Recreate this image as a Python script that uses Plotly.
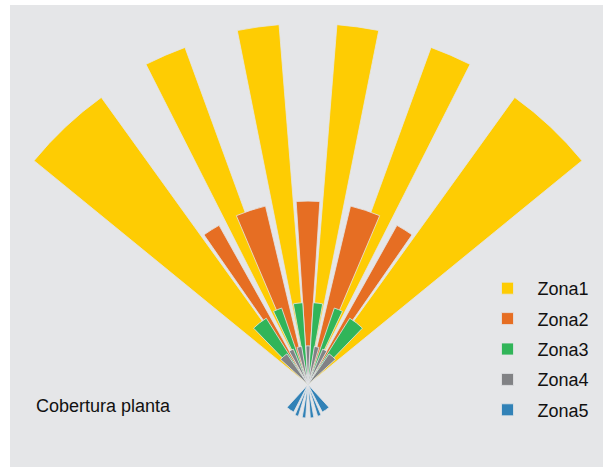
import math
import plotly.graph_objects as go

# ---------------- data ----------------
zone_names = ["Zona1", "Zona2", "Zona3", "Zona4", "Zona5"]

z1_theta = [133.25, 113.45, 97.95, 82.05, 66.55, 46.75]
z1_width = [15.0, 6.8, 6.7, 6.7, 6.8, 15.0]
z1_r = [9.8, 9.94, 10.0, 10.0, 9.94, 9.8]

z2_theta = [122.0, 108.2, 90.0, 71.8, 58.0]
z2_width = [5.6, 9.6, 7.4, 9.6, 5.6]
z2_r = [5.05, 5.08, 5.08, 5.08, 5.05]

z3_theta = [128.1, 112.1, 97.0, 83.0, 67.9, 51.9]
z3_width = [11.8, 6.2, 6.6, 6.6, 6.2, 11.8]
z3_r = [2.17, 2.24, 2.27, 2.27, 2.24, 2.17]

z4_theta = [131.0, 116.0, 103.0, 90.0, 77.0, 64.0, 49.0]
z4_width = [13.0, 7.0, 7.0, 6.0, 7.0, 7.0, 13.0]
z4_r = [1.03, 1.06, 1.07, 1.07, 1.07, 1.06, 1.03]

z5_theta = [235.0, 250.0, 263.0, 277.0, 290.0, 305.0]
z5_width = [15.0, 6.0, 6.0, 6.0, 6.0, 15.0]
z5_r = [0.86, 0.92, 0.93, 0.93, 0.92, 0.86]

title_text = "Cobertura planta"

# ---------------- style / layout ----------------
colors = ["#FECC03", "#E66E23", "#31B559", "#818285", "#3182B7"]
bg = "#E5E6E8"
W, H = 603, 467
cx, cy = 308.0, 384.5      # common centre in pixels
pxu = 36.1                 # pixels per radial unit
font_family = "Liberation Sans Narrow, Liberation Sans, Arial, sans-serif"


def sector_bbox(s0, s1):
    a0 = s0 % 360
    a1 = a0 + (s1 - s0)
    ax0, ay0 = math.cos(math.radians(a0)), math.sin(math.radians(a0))
    ax1, ay1 = math.cos(math.radians(a1)), math.sin(math.radians(a1))
    if (a0 <= 90 <= a1) or (a0 > 90 and a1 >= 450):
        y1 = 1
    elif ay0 <= 0 and ay1 <= 0:
        y1 = 0
    else:
        y1 = max(ay0, ay1)
    if (a0 <= 180 <= a1) or (a0 > 180 and a1 >= 540):
        x0 = -1
    elif ax0 >= 0 and ax1 >= 0:
        x0 = 0
    else:
        x0 = min(ax0, ax1)
    if (a0 <= 270 <= a1) or (a0 > 270 and a1 >= 630):
        y0 = -1
    elif ay0 >= 0 and ay1 >= 0:
        y0 = 0
    else:
        y0 = min(ay0, ay1)
    if a1 >= 360:
        x1 = 1
    elif ax0 <= 0 and ax1 <= 0:
        x1 = 0
    else:
        x1 = max(ax0, ax1)
    return x0, y0, x1, y1


def polar_domain(sector, rmax):
    R = rmax * pxu
    x0, y0, x1, y1 = sector_bbox(*sector)
    dx = [(cx + R * x0) / W, (cx + R * x1) / W]
    dy = [(H - (cy - R * y0)) / H, (H - (cy - R * y1)) / H]
    return dict(x=dx, y=dy)


sec1, rmax1 = [38, 142], 10.2
sec2, rmax2 = [220, 320], 1.0

fig = go.Figure()
series = [
    (z1_theta, z1_width, z1_r),
    (z2_theta, z2_width, z2_r),
    (z3_theta, z3_width, z3_r),
    (z4_theta, z4_width, z4_r),
    (z5_theta, z5_width, z5_r),
]
for i, (th, wd, rr) in enumerate(series):
    fig.add_trace(go.Barpolar(
        r=rr, theta=th, width=wd, name=zone_names[i],
        legendgroup=zone_names[i],
        marker=dict(color=colors[i], line=dict(color=bg, width=0.8)),
        subplot="polar2" if i == 4 else "polar",
        hoverinfo="name+r",
    ))


def polar_layout(sector, rmax):
    return dict(
        domain=polar_domain(sector, rmax),
        sector=sector,
        hole=0,
        bgcolor="rgba(0,0,0,0)",
        barmode="overlay",
        radialaxis=dict(visible=False, range=[0, rmax]),
        angularaxis=dict(visible=False, direction="counterclockwise", rotation=0),
    )


fig.update_layout(
    template="none",
    width=W, height=H,
    autosize=False,
    margin=dict(l=0, r=0, t=0, b=0, pad=0),
    paper_bgcolor="white",
    polar=polar_layout(sec1, rmax1),
    polar2=polar_layout(sec2, rmax2),
    showlegend=True,
    legend=dict(
        x=477.5 / W, xanchor="left",
        y=(H - 270) / H, yanchor="top",
        itemwidth=50,
        tracegroupgap=4,
        bgcolor="rgba(0,0,0,0)",
        font=dict(family=font_family, size=18, color="#111111"),
    ),
    shapes=[dict(type="rect", xref="paper", yref="paper",
                 x0=10 / W, x1=1, y0=0, y1=(H - 5) / H,
                 fillcolor=bg, line=dict(width=0), layer="below")],
    annotations=[dict(text=title_text, xref="paper", yref="paper",
                      x=34 / W, y=(H - 405.5) / H, xanchor="left", yanchor="middle",
                      showarrow=False,
                      font=dict(family=font_family, size=18, color="#111111"))],
)

fig.write_html(
    "out.html",
    config={"displayModeBar": False},
    post_script="document.body.style.margin='0px';document.body.style.overflow='hidden';",
)
